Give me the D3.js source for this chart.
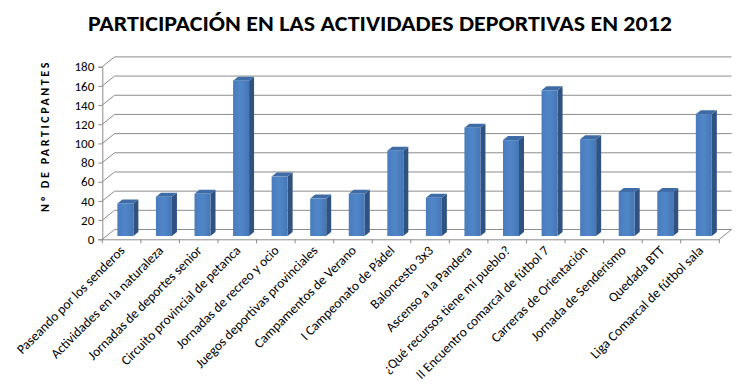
<!DOCTYPE html>
<html>
<head>
<meta charset="utf-8">
<script src="https://cdn.jsdelivr.net/npm/d3@7"></script>
<style>
  html, body { margin: 0; padding: 0; background: #fff; }
  svg { display: block; }
  text { font-family: Carlito, "Open Sans", "Noto Sans", sans-serif; }
</style>
</head>
<body>
<svg id="chart" width="749" height="391"></svg>
<script>
const categories = [
  "Paseando por los senderos",
  "Actividades en la naturaleza",
  "Jornadas de deportes senior",
  "Circuito provincial de petanca",
  "Jornadas de recreo y ocio",
  "Juegos deportivas provinciales",
  "Campamentos de Verano",
  "I Campeonato de Pádel",
  "Baloncesto 3x3",
  "Ascenso a la Pandera",
  "¿Qué recursos tiene mi pueblo?",
  "II Encuentro comarcal de fútbol 7",
  "Carreras de Orientación",
  "Jornada de Senderismo",
  "Quedada BTT",
  "Liga Comarcal de fútbol sala"
];
const participants = [34, 41, 44, 162, 62, 39, 44, 89, 40, 113, 100, 152, 101, 46, 46, 127];
const yTicks = [0, 20, 40, 60, 80, 100, 120, 140, 160, 180];
const titleText = "PARTICIPACIÓN EN LAS ACTIVIDADES DEPORTIVAS EN 2012";
const yTitle = "Nº DE PARTICPANTES";

const svg = d3.select("#chart");
const defs = svg.append("defs");
const grad = defs.append("linearGradient").attr("id", "front").attr("x1", 0).attr("x2", 1).attr("y1", 0).attr("y2", 0);
grad.append("stop").attr("offset", "0%").attr("stop-color", "#4a7bbd");
grad.append("stop").attr("offset", "50%").attr("stop-color", "#5087c8");
grad.append("stop").attr("offset", "100%").attr("stop-color", "#4676b5");

// layout
const x0 = 102.3, x1 = 719.3;
const depth = { dx: 12.3, dy: -9.8 };
const x = d3.scaleBand().domain(categories).range([x0, x1]).paddingInner(0).paddingOuter(0);
const y = d3.scaleLinear().domain([0, 180]).range([239.3, 66.7]);

// title
svg.append("text")
  .attr("x", 380).attr("y", 31)
  .attr("text-anchor", "middle")
  .attr("font-size", 22).attr("font-weight", "bold")
  .attr("textLength", 584).attr("lengthAdjust", "spacingAndGlyphs")
  .attr("fill", "#000")
  .text(titleText);

// gridlines: left wall diagonal + back wall
const grid = svg.append("g").attr("stroke", "#8c8c8c").attr("stroke-width", 1).attr("fill", "none");
yTicks.forEach(t => {
  const yf = y(t);
  grid.append("path")
    .attr("d", `M${x0},${yf}L${x0 + depth.dx},${yf + depth.dy}L${x1 + depth.dx},${yf + depth.dy}`);
});
grid.append("path").attr("d", `M${x1},${y(0)}L${x1 + depth.dx},${y(0) + depth.dy}`);

// y axis
const yAxis = d3.axisLeft(y).tickValues(yTicks).tickSize(4).tickPadding(4);
const gy = svg.append("g").attr("transform", `translate(${x0},0)`).call(yAxis);
gy.select(".domain").attr("stroke", "#8c8c8c");
gy.selectAll(".tick line").attr("stroke", "#8c8c8c");
gy.selectAll(".tick text").attr("font-size", 13).attr("fill", "#000")
  .attr("font-family", 'Carlito, "Open Sans", sans-serif');

// x axis
const xAxis = d3.axisBottom(x).tickSize(0).tickFormat("");
const gx = svg.append("g").attr("transform", `translate(0,${y(0)})`).call(xAxis);
gx.select(".domain").attr("stroke", "#8c8c8c");
gx.selectAll(".tick").remove();
const boundaries = categories.map(c => x(c)).concat([x1]);
gx.selectAll("line.b").data(boundaries).enter().append("line")
  .attr("x1", d => d).attr("x2", d => d).attr("y1", 0).attr("y2", 4)
  .attr("stroke", "#8c8c8c");

// bars
const bw = x.bandwidth();
const faceW = 16;
const bdx = 5, bdy = -4;
const barShift = { dx: 3.8, dy: -3.3 };
const bars = svg.append("g");
categories.forEach((c, i) => {
  const v = participants[i];
  const left = x(c) + (bw - faceW) / 2 + barShift.dx;
  const right = left + faceW;
  const top = y(v) + barShift.dy;
  const bottom = y(0) + barShift.dy;
  const g = bars.append("g");
  g.append("path")
    .attr("d", `M${right},${bottom}L${right + bdx},${bottom + bdy}L${right + bdx},${top + bdy}L${right},${top}Z`)
    .attr("fill", "#2f5281");
  g.append("path")
    .attr("d", `M${left},${top}L${left + bdx},${top + bdy}L${right + bdx},${top + bdy}L${right},${top}Z`)
    .attr("fill", "#3f6ca6");
  g.append("rect")
    .attr("x", left).attr("y", top).attr("width", faceW).attr("height", bottom - top)
    .attr("fill", "url(#front)");
});

// x labels
svg.append("g").selectAll("text").data(categories).enter().append("text")
  .attr("transform", d => `translate(${x(d) + bw / 2 + 4},${y(0) + 12}) rotate(-45)`)
  .attr("text-anchor", "end")
  .attr("font-size", 13.5)
  .attr("fill", "#000")
  .text(d => d);

// y title
svg.append("text")
  .attr("transform", `translate(49,136) rotate(-90)`)
  .attr("text-anchor", "middle")
  .attr("font-size", 12).attr("font-weight", "bold")
  .attr("letter-spacing", 2.6)
  .attr("fill", "#000")
  .text(yTitle);
</script>
</body>
</html>
